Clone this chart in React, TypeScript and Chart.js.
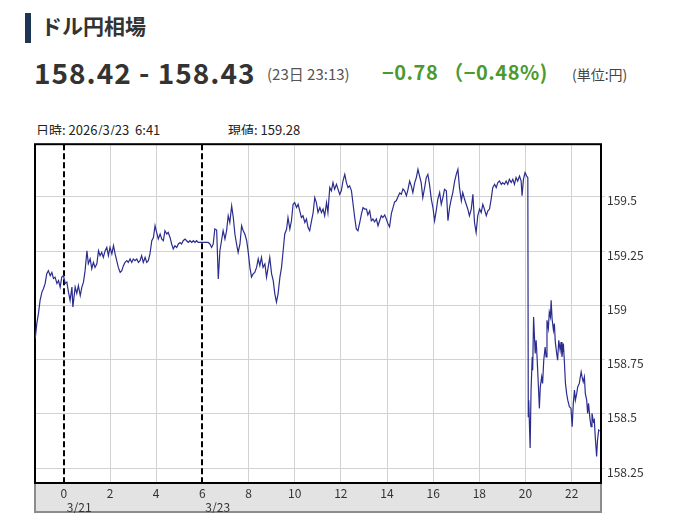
import React, { useEffect, useRef } from "react";
import { Chart, registerables } from "chart.js";

Chart.register(...registerables);

// ---- axis definitions ----
const X_MIN = -1.25;
const X_MAX = 23.27;
const Y_MIN = 158.181;
const Y_MAX = 159.743;
const xTickValues = [0, 2, 4, 6, 8, 10, 12, 14, 16, 18, 20, 22];
const yTickValues = [158.25, 158.5, 158.75, 159, 159.25, 159.5];
const dayBreakHours = [0, 6];
const dayBreakLabels = ["3/21", "3/23"];

// ---- data: [hour on axis, USD/JPY rate] ----
const fridayNight: [number, number][] = [
  [-1.24, 158.847], [-1.17, 158.917], [-1.1, 158.963], [-1.03, 159.023], [-0.95, 159.061],
  [-0.88, 159.078], [-0.81, 159.101], [-0.74, 159.146], [-0.67, 159.16], [-0.59, 159.137],
  [-0.52, 159.152], [-0.45, 159.124], [-0.38, 159.13], [-0.3, 159.101], [-0.23, 159.114],
  [-0.16, 159.084], [-0.09, 159.13], [-0.02, 159.137], [0.06, 159.101], [0.13, 159.107],
  [0.2, 159.061], [0.27, 159.023], [0.35, 159.084], [0.39, 158.992], [0.49, 159.084],
  [0.56, 159.055], [0.63, 159.091], [0.71, 159.045], [0.78, 159.084], [0.85, 159.107],
  [0.92, 159.16], [1.0, 159.252], [1.06, 159.192], [1.14, 159.215], [1.21, 159.169],
  [1.28, 159.198], [1.35, 159.175], [1.43, 159.192], [1.5, 159.252], [1.57, 159.229],
  [1.64, 159.244], [1.71, 159.221], [1.79, 159.252], [1.86, 159.267], [1.93, 159.229],
  [2.0, 159.267], [2.08, 159.237], [2.15, 159.275], [2.22, 159.237], [2.29, 159.206],
  [2.36, 159.175], [2.44, 159.152], [2.51, 159.16], [2.58, 159.183], [2.65, 159.198],
  [2.73, 159.206], [2.79, 159.198], [2.87, 159.214], [2.94, 159.198], [3.01, 159.214],
  [3.08, 159.206], [3.16, 159.214], [3.23, 159.198], [3.3, 159.206], [3.37, 159.229],
  [3.44, 159.198], [3.52, 159.221], [3.59, 159.198], [3.66, 159.206], [3.73, 159.237],
  [3.81, 159.298], [3.88, 159.313], [3.95, 159.367], [4.02, 159.336], [4.09, 159.306],
  [4.17, 159.329], [4.24, 159.306], [4.31, 159.298], [4.38, 159.344], [4.46, 159.329],
  [4.52, 159.336], [4.6, 159.313], [4.67, 159.283], [4.74, 159.26], [4.81, 159.275],
  [4.89, 159.267], [4.96, 159.283], [5.03, 159.29], [5.1, 159.283], [5.17, 159.298],
  [5.25, 159.306], [5.32, 159.298], [5.39, 159.29], [5.46, 159.298], [5.54, 159.29],
  [5.61, 159.298], [5.68, 159.29], [5.75, 159.298], [5.82, 159.29],
];

const mondaySession: [number, number][] = [
  [6.25, 159.29], [6.33, 159.283], [6.4, 159.267], [6.47, 159.283], [6.54, 159.352],
  [6.62, 159.347], [6.69, 159.122], [6.76, 159.252], [6.83, 159.298], [6.9, 159.344],
  [6.98, 159.306], [7.05, 159.344], [7.12, 159.413], [7.19, 159.382], [7.27, 159.459],
  [7.34, 159.405], [7.41, 159.329], [7.48, 159.283], [7.55, 159.244], [7.63, 159.283],
  [7.7, 159.367], [7.77, 159.344], [7.84, 159.329], [7.92, 159.298], [7.98, 159.252],
  [8.06, 159.175], [8.13, 159.13], [8.2, 159.145], [8.27, 159.152], [8.35, 159.175],
  [8.42, 159.214], [8.49, 159.183], [8.56, 159.221], [8.63, 159.175], [8.71, 159.191],
  [8.78, 159.13], [8.85, 159.175], [8.92, 159.221], [9.0, 159.145], [9.07, 159.114],
  [9.14, 159.053], [9.21, 159.015], [9.28, 159.053], [9.36, 159.13], [9.43, 159.175],
  [9.5, 159.252], [9.57, 159.329], [9.65, 159.352], [9.71, 159.405], [9.79, 159.352],
  [9.86, 159.39], [9.93, 159.466], [10.0, 159.474], [10.08, 159.451], [10.15, 159.466],
  [10.22, 159.436], [10.29, 159.405], [10.36, 159.413], [10.44, 159.382], [10.51, 159.398],
  [10.58, 159.359], [10.65, 159.344], [10.73, 159.39], [10.8, 159.428], [10.87, 159.497],
  [10.94, 159.474], [11.01, 159.428], [11.09, 159.451], [11.16, 159.428], [11.23, 159.444],
  [11.3, 159.413], [11.38, 159.474], [11.44, 159.428], [11.52, 159.543], [11.59, 159.528],
  [11.66, 159.566], [11.73, 159.535], [11.81, 159.558], [11.88, 159.535], [11.95, 159.512],
  [12.02, 159.528], [12.09, 159.573], [12.17, 159.604], [12.24, 159.566], [12.31, 159.543],
  [12.38, 159.551], [12.46, 159.528], [12.53, 159.466], [12.6, 159.405], [12.67, 159.352],
  [12.74, 159.344], [12.82, 159.382], [12.89, 159.421], [12.96, 159.451], [13.03, 159.444],
  [13.11, 159.444], [13.17, 159.417], [13.25, 159.436], [13.32, 159.39], [13.39, 159.398],
  [13.46, 159.385], [13.54, 159.398], [13.61, 159.367], [13.68, 159.39], [13.75, 159.413],
  [13.82, 159.405], [13.9, 159.417], [13.97, 159.398], [14.04, 159.376], [14.11, 159.362],
  [14.19, 159.424], [14.26, 159.451], [14.33, 159.477], [14.4, 159.482], [14.47, 159.5],
  [14.55, 159.518], [14.62, 159.512], [14.69, 159.537], [14.76, 159.528], [14.84, 159.505],
  [14.91, 159.535], [14.98, 159.573], [15.05, 159.551], [15.12, 159.52], [15.2, 159.566],
  [15.27, 159.589], [15.34, 159.627], [15.41, 159.596], [15.48, 159.566], [15.55, 159.497],
  [15.63, 159.543], [15.7, 159.589], [15.77, 159.604], [15.84, 159.558], [15.92, 159.489],
  [15.99, 159.451], [16.06, 159.39], [16.13, 159.436], [16.2, 159.489], [16.28, 159.52],
  [16.35, 159.466], [16.42, 159.497], [16.49, 159.535], [16.57, 159.528], [16.64, 159.39],
  [16.71, 159.451], [16.78, 159.489], [16.85, 159.52], [16.93, 159.573], [17.0, 159.604],
  [17.07, 159.627], [17.14, 159.543], [17.22, 159.482], [17.28, 159.52], [17.36, 159.489],
  [17.43, 159.466], [17.5, 159.444], [17.57, 159.413], [17.65, 159.444], [17.72, 159.512],
  [17.79, 159.382], [17.86, 159.336], [17.93, 159.413], [18.01, 159.444], [18.08, 159.428],
  [18.15, 159.466], [18.22, 159.444], [18.3, 159.413], [18.37, 159.436], [18.44, 159.444],
  [18.51, 159.489], [18.58, 159.543], [18.66, 159.558], [18.73, 159.543], [18.8, 159.566],
  [18.87, 159.573], [18.95, 159.558], [19.01, 159.566], [19.09, 159.558], [19.16, 159.573],
  [19.23, 159.558], [19.3, 159.581], [19.38, 159.566], [19.45, 159.581], [19.52, 159.558],
  [19.59, 159.589], [19.66, 159.573], [19.74, 159.596], [19.81, 159.573], [19.85, 159.505],
  [19.91, 159.581], [19.98, 159.612], [20.05, 159.596], [20.1, 159.589],
];

const afterDrop: [number, number][] = [
  [20.12, 158.487], [20.14, 158.563], [20.2, 158.342], [20.24, 158.609], [20.29, 158.762],
  [20.31, 158.701], [20.35, 158.946], [20.42, 158.778], [20.46, 158.839], [20.5, 158.762],
  [20.56, 158.624], [20.6, 158.525], [20.64, 158.624], [20.7, 158.67], [20.74, 158.64],
  [20.79, 158.747], [20.85, 158.808], [20.89, 158.762], [20.93, 158.931], [20.99, 158.893],
  [21.03, 158.969], [21.08, 158.946], [21.11, 159.023], [21.15, 158.939], [21.21, 158.885],
  [21.25, 158.916], [21.29, 158.831], [21.35, 158.778], [21.39, 158.747], [21.44, 158.839],
  [21.5, 158.793], [21.54, 158.831], [21.58, 158.762], [21.64, 158.824], [21.68, 158.747],
  [21.73, 158.64], [21.78, 158.594], [21.83, 158.563], [21.9, 158.533], [21.97, 158.525],
  [22.02, 158.441], [22.07, 158.548], [22.12, 158.609], [22.16, 158.563], [22.22, 158.594],
  [22.26, 158.624], [22.33, 158.64], [22.41, 158.693], [22.45, 158.67], [22.5, 158.647],
  [22.55, 158.67], [22.59, 158.594], [22.65, 158.563], [22.69, 158.502], [22.73, 158.548],
  [22.79, 158.479], [22.84, 158.441], [22.88, 158.502], [22.94, 158.464], [22.98, 158.472],
  [23.02, 158.395], [23.08, 158.303], [23.12, 158.38], [23.17, 158.425], [23.21, 158.42],
];

// ---- styles ----
const FONT = "'Noto Sans CJK JP', 'Noto Sans', sans-serif";
const LINE_COLOR = "#2b2d8e";
const GRID_COLOR = "#d2d2d2";
const TEXT_COLOR = "#333333";

const framePlugin = {
  id: "frame",
  beforeDraw(chart: any) {
    const { ctx, chartArea } = chart;
    const { left, right, bottom } = chartArea;
    ctx.save();
    ctx.fillStyle = "#ffffff";
    ctx.fillRect(0, 0, chart.width, chart.height);
    ctx.fillStyle = "#e3e3e3";
    ctx.fillRect(left, bottom, right - left, chart.height - bottom);
    ctx.strokeStyle = "#8c8c8c";
    ctx.lineWidth = 2;
    ctx.strokeRect(left, bottom, right - left, chart.height - bottom - 1);
    ctx.restore();
  },
  beforeDatasetsDraw(chart: any) {
    const { ctx, chartArea, scales } = chart;
    const { left, right, top, bottom } = chartArea;
    ctx.save();
    ctx.strokeStyle = "#000000";
    ctx.lineWidth = 2;
    ctx.setLineDash([6, 3]);
    dayBreakHours.forEach((h) => {
      const px = Math.round(scales.x.getPixelForValue(h));
      ctx.beginPath();
      ctx.moveTo(px, top);
      ctx.lineTo(px, bottom);
      ctx.stroke();
    });
    ctx.setLineDash([]);
    ctx.strokeRect(left, top, right - left, bottom - top);
    ctx.restore();
  },
  afterDraw(chart: any) {
    const { ctx, chartArea, scales } = chart;
    ctx.save();
    ctx.fillStyle = TEXT_COLOR;
    ctx.font = `12px ${FONT}`;
    ctx.textAlign = "left";
    ctx.textBaseline = "middle";
    dayBreakHours.forEach((h, i) => {
      const px = scales.x.getPixelForValue(h);
      ctx.fillText(dayBreakLabels[i], px + 3, chartArea.bottom + 24);
    });
    ctx.restore();
  },
};

export default function App() {
  const canvasRef = useRef<HTMLCanvasElement>(null);

  useEffect(() => {
    const canvas = canvasRef.current;
    if (!canvas) return;
    const points = [...fridayNight, ...mondaySession, ...afterDrop].map(([x, y]) => ({ x, y }));
    const chart = new Chart(canvas, {
      type: "line",
      data: {
        datasets: [
          {
            data: points,
            borderColor: LINE_COLOR,
            borderWidth: 1.2,
            pointRadius: 0,
            tension: 0,
            fill: false,
          },
        ],
      },
      options: {
        animation: false,
        responsive: false,
        devicePixelRatio: 1,
        events: [],
        layout: { padding: { left: 35, top: 8, right: 0, bottom: 0 } },
        plugins: { legend: { display: false }, tooltip: { enabled: false } },
        scales: {
          x: {
            type: "linear",
            min: X_MIN,
            max: X_MAX,
            afterBuildTicks: (s: any) => {
              s.ticks = xTickValues.map((v) => ({ value: v }));
            },
            afterFit: (s: any) => {
              s.height = 30;
            },
            border: { display: false },
            grid: {
              color: (c: any) =>
                c.tick && dayBreakHours.includes(c.tick.value) ? "rgba(0,0,0,0)" : GRID_COLOR,
              lineWidth: 1,
              drawTicks: false,
            },
            ticks: {
              padding: 3,
              color: TEXT_COLOR,
              font: { family: FONT, size: 12 },
              maxRotation: 0,
              autoSkip: false,
              callback: (v: any) => String(v),
            },
          },
          y: {
            position: "right",
            min: Y_MIN,
            max: Y_MAX,
            afterBuildTicks: (s: any) => {
              s.ticks = yTickValues.map((v) => ({ value: v }));
            },
            afterFit: (s: any) => {
              s.width = 77;
            },
            border: { display: false },
            grid: { color: GRID_COLOR, lineWidth: 1, drawTicks: true, tickLength: 4 },
            ticks: {
              padding: 2,
              labelOffset: 4,
              color: TEXT_COLOR,
              font: { family: FONT, size: 12 },
              callback: (v: any) => String(v),
            },
          },
        },
      },
      plugins: [framePlugin],
    } as any);
    return () => chart.destroy();
  }, []);

  const abs = (s: React.CSSProperties): React.CSSProperties => ({
    position: "absolute",
    whiteSpace: "nowrap",
    fontFamily: FONT,
    lineHeight: 1,
    ...s,
  });

  return (
    <div style={{ position: "fixed", left: 0, top: 0, width: 678, height: 513, background: "#fff", overflow: "hidden" }}>
      <div style={{ position: "absolute", left: 25, top: 13, width: 6, height: 30, background: "#1f3554" }} />
      <div style={abs({ left: 41, top: 15, fontSize: 21, fontWeight: 700, color: "#333" })}>ドル円相場</div>
      <div style={abs({ left: 34, top: 58, fontSize: 28, fontWeight: 700, color: "#333", letterSpacing: 1 })}>158.42 - 158.43</div>
      <div style={abs({ left: 267, top: 66, fontSize: 15, color: "#555" })}>(23日 23:13)</div>
      <div style={abs({ left: 382, top: 62, fontSize: 20, fontWeight: 700, color: "#4c9a2d", letterSpacing: 0.5 })}>−0.78 （−0.48%)</div>
      <div style={abs({ left: 572, top: 67, fontSize: 14, color: "#444" })}>(単位:円)</div>
      <div style={abs({ left: 36, top: 123, fontSize: 13, color: "#222" })}>日時: 2026/3/23&nbsp;&nbsp;6:41</div>
      <div style={abs({ left: 228, top: 123, fontSize: 13, color: "#222" })}>現値: 159.28</div>
      <canvas
        ref={canvasRef}
        width={678}
        height={378}
        style={{ position: "absolute", left: 0, top: 135, width: 678, height: 378 }}
      />
    </div>
  );
}
